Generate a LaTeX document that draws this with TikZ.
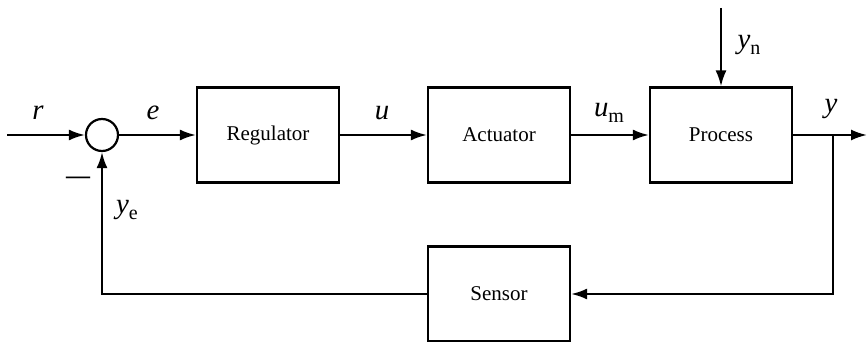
\documentclass[tikz,border=0pt]{standalone}
\usepackage{fontspec}
\setmainfont{Liberation Serif}
\usetikzlibrary{arrows.meta}
\newcommand{\sig}[2]{\textit{#1}\raisebox{-0.45ex}{\normalsize #2}}
\tikzstyle{arrow} = [line width=1.1pt, -{Latex[length=8pt,width=5.5pt]}]
\tikzstyle{edge} = [line width=1.1pt]
\tikzstyle{block} = [draw, line width=1.1pt, minimum width=71pt, minimum height=47.5pt, font=\fontsize{10.5}{12}\selectfont]
\tikzstyle{lbl} = [font=\Large]

\begin{document}
\begin{tikzpicture}[x=0.5pt,y=0.5pt]
    \useasboundingbox (0,0) rectangle (867,342);
    % blocks
    \node[draw, circle, line width=1.1pt, minimum size=16pt, inner sep=0pt] (sum) at (102,207) {};
    \node[block] (regulator) at (268,207) {Regulator};
    \node[block] (actuator) at (499,207) {Actuator};
    \node[block] (process) at (721,207) {Process};
    \node[block] (sensor) at (499,48) {Sensor};
    % free ends
    \coordinate (input) at (7,207);
    \coordinate (noise) at (721,334);
    \coordinate (output) at (867,207);
    \coordinate (branch) at (833,207);
    % forward path
    \draw[arrow] (input) -- (sum);
    \draw[arrow] (sum) -- (regulator);
    \draw[arrow] (regulator) -- (actuator);
    \draw[arrow] (actuator) -- (process);
    \draw[arrow] (noise) -- (process);
    \draw[arrow] (process) -- (output);
    % feedback path
    \draw[arrow] (branch) |- (sensor);
    \draw[arrow] (sensor) -| (sum);
    % labels
    \node[lbl] (rlbl) at (38,229) {\textit{r}};
    \node[lbl] (elbl) at (153,229) {\textit{e}};
    \node[lbl] (ulbl) at (382,229) {\textit{u}};
    \node[lbl] (umlbl) at (609,229) {\sig{u}{m}};
    \node[lbl] (ylbl) at (831,233) {\textit{y}};
    \node[lbl] (ynlbl) at (749,297) {\sig{y}{n}};
    \node[lbl] (yelbl) at (127,132) {\sig{y}{e}};
    \node[font=\large\bfseries] (minus) at (78,162) {—};
\end{tikzpicture}
\end{document}
